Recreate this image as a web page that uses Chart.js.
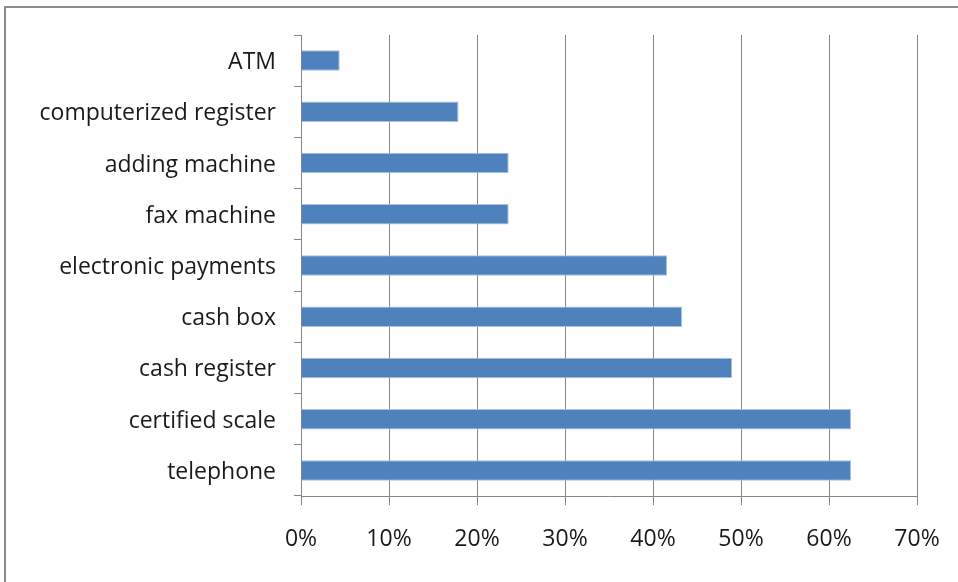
<!DOCTYPE html>
<html>
<head>
<meta charset="utf-8">
<script src="https://cdn.jsdelivr.net/npm/chart.js@4"></script>
<style>
  html, body { margin: 0; padding: 0; background: #fff; }
  #wrap { position: relative; width: 958px; height: 582px; overflow: hidden; }
  #frame { position: absolute; left: 4px; top: 6px; width: 1000px; height: 1000px;
           border: 2px solid #8c8c8c; box-sizing: border-box; }
  #winner { position: absolute; left: 0; top: 0; }
</style>
</head>
<body>
<div id="wrap">
  <div id="frame"></div>
  <canvas id="winner" width="958" height="582"></canvas>
</div>
<script>
const categories = ['ATM', 'computerized register', 'adding machine', 'fax machine',
  'electronic payments', 'cash box', 'cash register', 'certified scale', 'telephone'];
const shares = [4.4, 17.9, 23.6, 23.6, 41.6, 43.3, 49.0, 62.5, 62.5];
const tickSteps = [0, 10, 20, 30, 40, 50, 60, 70];

const font = { family: 'Open Sans', size: 23 };
const gridColor = '#868686';

const ctx = document.getElementById('winner').getContext('2d');
new Chart(ctx, {
  type: 'bar',
  data: {
    labels: categories,
    datasets: [{
      data: shares,
      backgroundColor: '#4f81bd',
      borderColor: '#a9c2e0',
      borderWidth: 1,
      categoryPercentage: 1,
      barPercentage: 0.4
    }]
  },
  options: {
    indexAxis: 'y',
    responsive: false,
    animation: false,
    layout: { padding: { top: 35, right: 41, bottom: 0, left: 0 } },
    scales: {
      x: {
        min: 0,
        max: 70,
        afterBuildTicks: scale => { scale.ticks = tickSteps.map(v => ({ value: v })); },
        afterFit: scale => {
          scale.height = 86;
          scale.paddingLeft = 0;
          scale.paddingRight = 0;
        },
        border: { display: true, color: gridColor, width: 1 },
        grid: { color: gridColor, lineWidth: 1, drawTicks: true, tickLength: 9, tickColor: gridColor },
        ticks: { font, color: '#1a1a1a', padding: 21, maxRotation: 0, callback: v => v + '%' }
      },
      y: {
        afterFit: scale => { scale.width = 301; },
        border: { display: true, color: gridColor, width: 1 },
        grid: { offset: true, drawOnChartArea: false, drawTicks: true, tickLength: 7, tickColor: gridColor },
        ticks: { font, color: '#1a1a1a', padding: 18, labelOffset: 2 }
      }
    },
    plugins: {
      legend: { display: false },
      title: { display: false },
      tooltip: { enabled: false }
    }
  }
});
</script>
</body>
</html>
